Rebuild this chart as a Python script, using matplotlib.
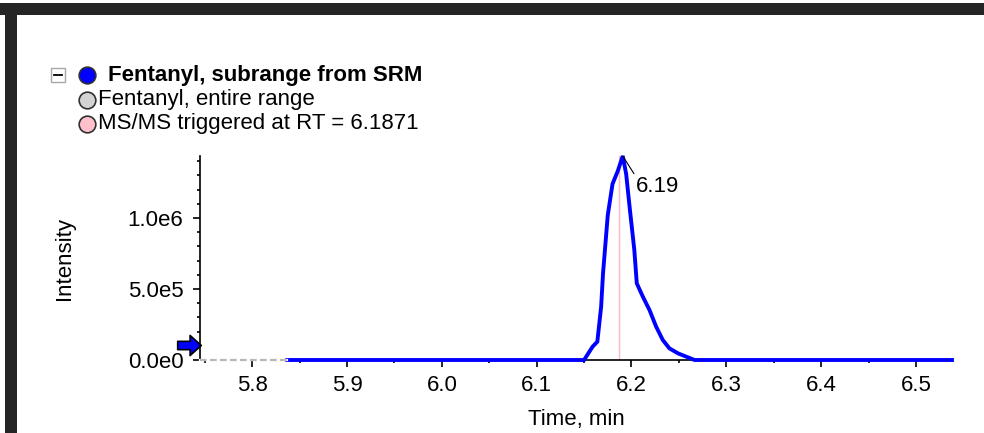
import matplotlib
matplotlib.use("Agg")
import matplotlib.pyplot as plt
from matplotlib.patches import Rectangle
from matplotlib.path import Path
from matplotlib.ticker import MultipleLocator, FixedLocator, FixedFormatter

plt.rcParams['font.family'] = ['Liberation Sans', 'DejaVu Sans']

# XIC of fentanyl (subrange from SRM)
rt_min = [5.837, 6.150, 6.159, 6.164, 6.168, 6.170, 6.175, 6.180, 6.1855,
          6.1908, 6.1944, 6.198, 6.203, 6.2056, 6.212, 6.219, 6.226, 6.233,
          6.240, 6.249, 6.2665, 6.538]
intensity = [0, 0, 0.094e6, 0.129e6, 0.375e6, 0.61e6, 1.02e6, 1.24e6, 1.33e6,
             1.437e6, 1.31e6, 1.08e6, 0.775e6, 0.54e6, 0.446e6, 0.352e6,
             0.235e6, 0.141e6, 0.082e6, 0.047e6, 0.0, 0.0]
# entire range trace, only visible before the subrange starts
full_rt = [5.745, 5.837]
full_int = [0, 0]
trigger_rt = 6.1871
peak_rt = 6.1908
peak_int = 1.437e6
peak_label = "6.19"

xlim = (5.745, 6.538)
x_major = [5.8, 5.9, 6.0, 6.1, 6.2, 6.3, 6.4, 6.5]
y_major = [0, 5e5, 1e6]
y_labels = ["0.0e0", "5.0e5", "1.0e6"]

legend_names = ["Fentanyl, subrange from SRM", "Fentanyl, entire range",
                "MS/MS triggered at RT = 6.1871"]
legend_colors = ["#0000ff", "#d3d3d3", "#ffc0cb"]

FS = 16
W, H = 984, 433
fig = plt.figure(figsize=(W / 100, H / 100), dpi=100)
ax = fig.add_axes([200 / W, (H - 360) / H, (952 - 200) / W, (360 - 156) / H])

# gray dashed trace sits over the axis line
ax.plot(full_rt, full_int, color="white", lw=1.6, zorder=4, clip_on=False)
ax.plot(full_rt, full_int, color="#b8b8b8", lw=1.6, ls=(0, (3, 1.5)), zorder=4,
        clip_on=False)
ax.plot([trigger_rt, trigger_rt], [0, peak_int], color="#ffb6c1", lw=1.0, zorder=2)
ax.plot(rt_min, intensity, color="#0000ff", lw=2.8, zorder=3,
        solid_joinstyle="miter", clip_on=False)

ax.annotate(peak_label, xy=(peak_rt, peak_int), xytext=(13, -31),
            textcoords="offset pixels", ha="left", va="center", fontsize=FS,
            arrowprops=dict(arrowstyle="-", color="black", lw=0.8,
                            shrinkA=0, shrinkB=0, relpos=(0, 1)))

ax.set_xlim(*xlim)
ax.set_ylim(0, peak_int)
ax.xaxis.set_major_locator(FixedLocator(x_major))
ax.xaxis.set_minor_locator(MultipleLocator(0.05))
ax.yaxis.set_major_locator(FixedLocator(y_major))
ax.yaxis.set_major_formatter(FixedFormatter(y_labels))
ax.yaxis.set_minor_locator(MultipleLocator(1e5))
ax.tick_params(which="major", direction="out", length=5, width=1.2,
               labelsize=FS, pad=6)
ax.tick_params(which="minor", direction="out", length=2.5, width=1.2)
ax.tick_params(axis="y", pad=7)
for s in ("top", "right"):
    ax.spines[s].set_visible(False)
for s in ("left", "bottom"):
    ax.spines[s].set_linewidth(1.2)

ax.set_xlabel("Time, min", fontsize=FS, labelpad=9)
ax.set_ylabel("Intensity", fontsize=FS, labelpad=38)

# window frame
fig.patches.append(Rectangle((0, (H - 15) / H), 1, 12 / H, transform=fig.transFigure,
                             facecolor="#252525", edgecolor="none"))
fig.patches.append(Rectangle((5 / W, 0), 12 / W, (H - 15) / H, transform=fig.transFigure,
                             facecolor="#252525", edgecolor="none"))

# blue arrow on the y axis
arrow = Path([(-1, -0.35), (0.05, -0.35), (0.05, -0.85), (1, 0), (0.05, 0.85),
              (0.05, 0.35), (-1, 0.35), (-1, -0.35)],
             [Path.MOVETO] + [Path.LINETO] * 6 + [Path.CLOSEPOLY])
ax.plot([189 / W], [(H - 345) / H], marker=arrow, markersize=17,
        markerfacecolor="#0000ff", markeredgecolor="black", markeredgewidth=1.2,
        transform=fig.transFigure, clip_on=False)

# legend
fig.patches.append(Rectangle((51 / W, (H - 82) / H), 14 / W, 14 / H,
                             transform=fig.transFigure, facecolor="white",
                             edgecolor="#a8a8a8", lw=1))
fig.add_artist(plt.Line2D([54 / W, 62 / W], [(H - 75) / H, (H - 75) / H],
                          color="black", lw=1.3, transform=fig.transFigure))
rows = [75, 100, 124]
text_x = [108, 98, 98]
for name, col, y, tx, bold in zip(legend_names, legend_colors, rows, text_x,
                                  [True, False, False]):
    fig.add_artist(plt.Line2D([87 / W], [(H - y) / H], marker="o", markersize=12,
                              markerfacecolor=col, markeredgecolor="#303030",
                              markeredgewidth=1.2, transform=fig.transFigure))
    fig.text(tx / W, (H - y) / H, name, fontsize=FS, va="center", ha="left",
             fontweight="bold" if bold else "normal")

fig.savefig("out.png", dpi=100)
